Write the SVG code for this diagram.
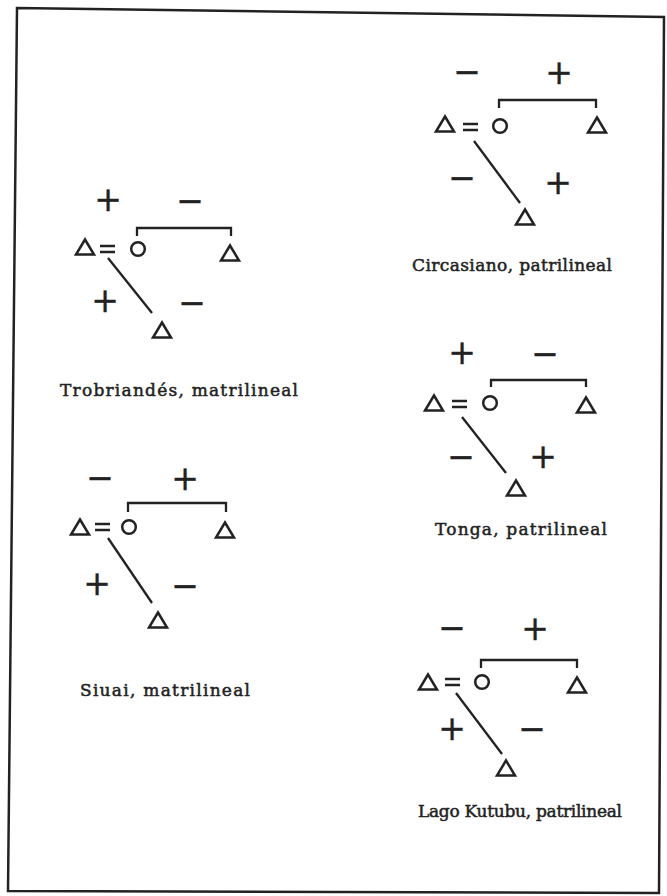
<svg xmlns="http://www.w3.org/2000/svg" xmlns:xlink="http://www.w3.org/1999/xlink" width="667" height="896" viewBox="0 0 667 896">
<style>
.ln{fill:none;stroke:#222;stroke-width:2.3;stroke-linecap:butt}
.nd{fill:none;stroke:#222;stroke-width:2.5}
.sg{font-family:"DejaVu Sans",sans-serif;font-size:33px;fill:#222;stroke:#222;stroke-width:0.4;text-anchor:middle}
.lb{font-family:"DejaVu Serif","Liberation Serif",serif;font-size:17px;fill:#222;stroke:#222;stroke-width:0.5;text-anchor:middle}
</style>
<defs>
<polygon id="tri" points="0,-7.5 9,7.5 -9,7.5" class="nd"/>
<circle id="cir" r="6.8" class="nd"/>
</defs>
<rect width="667" height="896" fill="#fff"/>
<path d="M17,8 L664,17 L659,893 L8,891 Z" fill="none" stroke="#222" stroke-width="2.5"/>

<g id="trobriand">
<g id="connectors-trobriand">
<path class="ln" d="M137,236 V228 H231 V236"/>
<path class="ln" d="M100,246 H115 M100,252 H115"/>
<path class="ln" d="M108,258 L152,313"/>
</g>
<g id="trobriand-husband"><use xlink:href="#tri" x="85" y="247"/></g>
<g id="trobriand-wife"><use xlink:href="#cir" x="138" y="249"/></g>
<g id="trobriand-brother"><use xlink:href="#tri" x="230" y="253"/></g>
<g id="trobriand-son"><use xlink:href="#tri" x="162" y="330"/></g>
<text class="sg" x="108" y="211">+</text>
<text class="sg" x="190" y="212">−</text>
<text class="sg" x="105" y="312">+</text>
<text class="sg" x="192" y="314">−</text>
<text class="lb" x="179" y="396" textLength="238" lengthAdjust="spacing">Trobriandés, matrilineal</text>
</g>

<g id="circasiano">
<g id="connectors-circasiano">
<path class="ln" d="M499,108 V100 H596 V108"/>
<path class="ln" d="M463,124 H478 M463,130 H478"/>
<path class="ln" d="M474,141 L520,203"/>
</g>
<g id="circasiano-husband"><use xlink:href="#tri" x="445" y="124"/></g>
<g id="circasiano-wife"><use xlink:href="#cir" x="500" y="126"/></g>
<g id="circasiano-brother"><use xlink:href="#tri" x="597" y="125"/></g>
<g id="circasiano-son"><use xlink:href="#tri" x="525" y="217"/></g>
<text class="sg" x="467" y="83">−</text>
<text class="sg" x="559" y="84">+</text>
<text class="sg" x="462" y="189">−</text>
<text class="sg" x="558" y="194">+</text>
<text class="lb" x="512" y="271" textLength="200" lengthAdjust="spacing">Circasiano, patrilineal</text>
</g>

<g id="siuai">
<g id="connectors-siuai">
<path class="ln" d="M128,512 V503 H226 V512"/>
<path class="ln" d="M95,524 H110 M95,530 H110"/>
<path class="ln" d="M108,538 L152,603"/>
</g>
<g id="siuai-husband"><use xlink:href="#tri" x="80" y="527"/></g>
<g id="siuai-wife"><use xlink:href="#cir" x="129" y="527"/></g>
<g id="siuai-brother"><use xlink:href="#tri" x="225" y="530"/></g>
<g id="siuai-son"><use xlink:href="#tri" x="158" y="620"/></g>
<text class="sg" x="100" y="489">−</text>
<text class="sg" x="185" y="490">+</text>
<text class="sg" x="97" y="595">+</text>
<text class="sg" x="185" y="597">−</text>
<text class="lb" x="165" y="696" textLength="170" lengthAdjust="spacing">Siuai, matrilineal</text>
</g>

<g id="tonga">
<g id="connectors-tonga">
<path class="ln" d="M491,387 V380 H586 V387"/>
<path class="ln" d="M452,401 H467 M452,407 H467"/>
<path class="ln" d="M462,417 L506,473"/>
</g>
<g id="tonga-husband"><use xlink:href="#tri" x="434" y="403"/></g>
<g id="tonga-wife"><use xlink:href="#cir" x="490" y="403"/></g>
<g id="tonga-brother"><use xlink:href="#tri" x="586" y="405"/></g>
<g id="tonga-son"><use xlink:href="#tri" x="516" y="488"/></g>
<text class="sg" x="462" y="364">+</text>
<text class="sg" x="545" y="365">−</text>
<text class="sg" x="461" y="468">−</text>
<text class="sg" x="543" y="468">+</text>
<text class="lb" x="521" y="535" textLength="172" lengthAdjust="spacing">Tonga, patrilineal</text>
</g>

<g id="kutubu">
<g id="connectors-kutubu">
<path class="ln" d="M481,668 V660 H577 V668"/>
<path class="ln" d="M445,679 H460 M445,685 H460"/>
<path class="ln" d="M456,693 L502,754"/>
</g>
<g id="kutubu-husband"><use xlink:href="#tri" x="428" y="682"/></g>
<g id="kutubu-wife"><use xlink:href="#cir" x="482" y="682"/></g>
<g id="kutubu-brother"><use xlink:href="#tri" x="577" y="685"/></g>
<g id="kutubu-son"><use xlink:href="#tri" x="506" y="768"/></g>
<text class="sg" x="452" y="639">−</text>
<text class="sg" x="535" y="640">+</text>
<text class="sg" x="452" y="740">+</text>
<text class="sg" x="532" y="740">−</text>
<text class="lb" x="520" y="817" textLength="204" lengthAdjust="spacing">Lago Kutubu, patrilineal</text>
</g>
</svg>
